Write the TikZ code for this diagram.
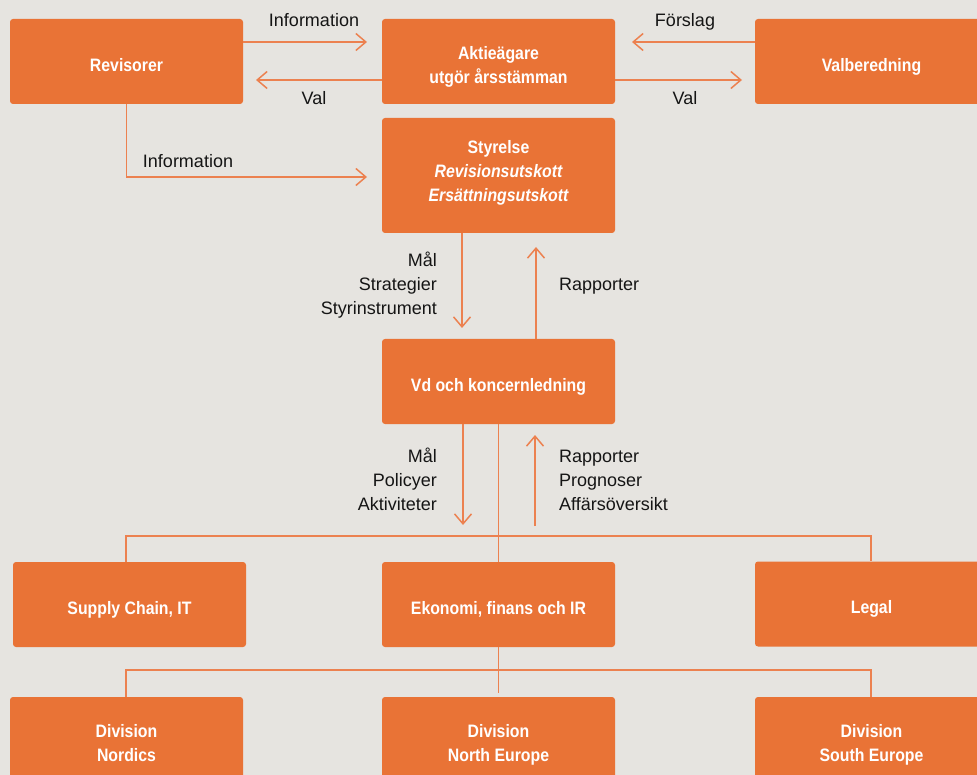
\documentclass[tikz,border=0pt]{standalone}
\usepackage{fontspec}
\setmainfont{Liberation Sans}
\newfontfamily\boxfamily[FakeStretch=0.88]{Liberation Sans}
\usetikzlibrary{arrows.meta}
\definecolor{bgc}{HTML}{E6E4E0}
\definecolor{boxc}{HTML}{E97336}
\definecolor{arrc}{HTML}{EC8150}
\definecolor{txtc}{HTML}{151515}
\newcommand\orgnode[4][5pt]{%
  \node[orgbox] (#2) at (#3) {};
  \node[btxt] (#2t) at ([yshift=-#1]#2.center) {#4};}
\begin{document}
\begin{tikzpicture}[x=1pt,y=-1pt,
  orgbox/.style={fill=boxc, draw=none, rounded corners=3pt, minimum width=233pt, minimum height=85pt, inner sep=0pt},
  tallbox/.style={orgbox, minimum height=115pt},
  btxt/.style={text=white, align=center, inner sep=0pt, font=\boxfamily\bfseries\fontsize{18}{24}\selectfont},
  lbl/.style={text=txtc, inner sep=0pt, font=\fontsize{18}{24}\selectfont},
  conn/.style={draw=arrc, line width=1.5pt},
  arr/.style={conn, -{Straight Barb[length=10pt,width=17pt,line width=1.5pt]}}]
\useasboundingbox (0,0) rectangle (977,775);
\fill[bgc] (0,0) rectangle (977,775);

% boxes
\orgnode{rev}{126.5,61.5}{Revisorer\strut}
\orgnode{akt}{498.5,61.5}{Aktieägare\strut\\utgör årsstämman\strut}
\orgnode{val}{871.5,61.5}{Valberedning\strut}
\node[tallbox] (sty) at (498.5,175.5) {};
\node[btxt] (styt) at ([yshift=3pt]sty.center) {Styrelse\strut\\\itshape Revisionsutskott\strut\\\itshape Ersättningsutskott\strut};
\orgnode{vd}{498.5,381.5}{Vd och koncernledning\strut}
\orgnode{sup}{129.5,604.5}{Supply Chain, IT\strut}
\orgnode{eko}{498.5,604.5}{Ekonomi, finans och IR\strut}
\orgnode{leg}{871.5,604}{Legal\strut}
\orgnode{d1}{126.5,739.5}{Division\strut\\Nordics\strut}
\orgnode{d2}{498.5,739.5}{Division\strut\\North Europe\strut}
\orgnode{d3}{871.5,739.5}{Division\strut\\South Europe\strut}

% top connectors
\coordinate (infoT) at (367,42);
\draw[arr] (rev.east |- infoT) -- (infoT);
\coordinate (valL) at (256,80);
\draw[arr] (akt.west |- valL) -- (valL);
\coordinate (forsl) at (632,42);
\draw[arr] (val.west |- forsl) -- (forsl);
\coordinate (valR) at (742,80);
\draw[arr] (akt.east |- valR) -- (valR);
\coordinate (infoB) at (367,177);
\draw[arr] (rev.south) |- (infoB);

% vertical connectors
\coordinate (msTip) at (462,328);
\draw[arr] (sty.south -| msTip) -- (msTip);
\coordinate (rapTip) at (536,247);
\draw[arr] (vd.north -| rapTip) -- (rapTip);
\coordinate (mpTip) at (463,525);
\draw[arr] (vd.south -| mpTip) -- (mpTip);
\coordinate (rpTip) at (535,435);
\coordinate (rpBase) at (535,526);
\draw[arr] (rpBase) -- (rpTip);

% tree lines
\coordinate (b1L) at (126,536);
\coordinate (b1R) at (871,536);
\draw[conn] (vd.south) -- (eko.north);
\draw[conn] (sup.north -| b1L) -- (b1L) -- (b1R) -- (leg.north -| b1R);
\coordinate (b2L) at (126,670);
\coordinate (b2R) at (871,670);
\coordinate (b2E) at (498.5,693);
\draw[conn] (eko.south) -- (b2E);
\draw[conn] (d1.north -| b2L) -- (b2L) -- (b2R) -- (d3.north -| b2R);

% labels
\node[lbl, anchor=base] (l1) at (314,27) {Information};
\node[lbl, anchor=base] (l2) at (314,105) {Val};
\node[lbl, anchor=base] (l3) at (685,27) {Förslag};
\node[lbl, anchor=base] (l4) at (685,105) {Val};
\node[lbl, anchor=base] (l5) at (188,168) {Information};
\node[lbl, anchor=base east] (l6) at (437,267) {Mål};
\node[lbl, anchor=base east] (l7) at (437,291) {Strategier};
\node[lbl, anchor=base east] (l8) at (437,315) {Styrinstrument};
\node[lbl, anchor=base west] (l9) at (559,291) {Rapporter};
\node[lbl, anchor=base east] (l10) at (437,462) {Mål};
\node[lbl, anchor=base east] (l11) at (437,486) {Policyer};
\node[lbl, anchor=base east] (l12) at (437,510) {Aktiviteter};
\node[lbl, anchor=base west] (l13) at (559,462) {Rapporter};
\node[lbl, anchor=base west] (l14) at (559,486) {Prognoser};
\node[lbl, anchor=base west] (l15) at (559,510) {Affärsöversikt};
\end{tikzpicture}
\end{document}
